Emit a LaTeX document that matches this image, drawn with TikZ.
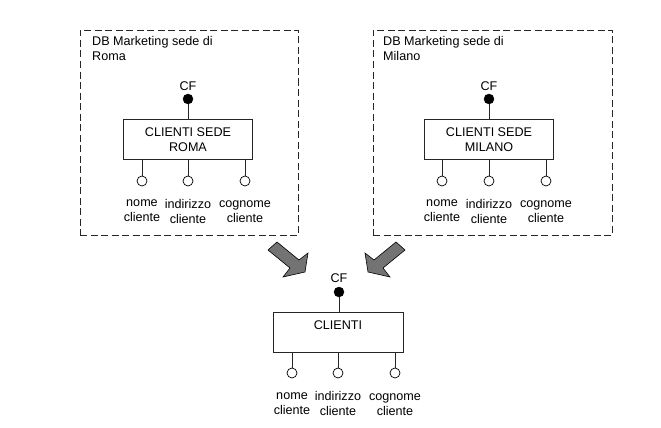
\documentclass[tikz,border=0pt]{standalone}
\usepackage{fontspec}
\setmainfont{Liberation Sans}
\usetikzlibrary{positioning}

\begin{document}
\begin{tikzpicture}[
    x=1pt, y=-1pt,
    every node/.style={font=\fontsize{12.6}{15}\selectfont},
    area/.style={rectangle, draw=black!85, line width=0.8pt, dash pattern=on 7pt off 3.5pt},
    entity/.style={rectangle, draw=black!85, line width=0.8pt, minimum width=129pt, minimum height=40pt, align=center},
    keyattr/.style={circle, fill=black, draw=black, minimum size=10pt, inner sep=0pt},
    attr/.style={circle, draw=black, fill=white, line width=0.7pt, minimum size=10pt, inner sep=0pt},
    attrlabel/.style={align=center, inner sep=0pt},
    link/.style={draw=black!85, line width=0.8pt},
    bigarrow/.style={fill=black!55, draw=black, line width=0.6pt}
]
    \useasboundingbox (0,0) rectangle (661,428);

    % database Roma
    \node (dbroma) [area, minimum width=218pt, minimum height=205pt] at (189,132.5) {};
    \node (titleroma) [anchor=north west, align=left, inner sep=0pt] at (92,36) {DB Marketing sede di\\Roma};
    \node (cfroma) at (188,86) {CF};
    \node (kroma) [keyattr] at (188,99) {};
    \node (roma) [entity] at (188,139.5) {CLIENTI SEDE\\ROMA};
    \node (nomer) [attr] at (142,181) {};
    \node (indr) [attr] at (188,181) {};
    \node (cognr) [attr] at (245,181) {};
    \node (lnomer) [attrlabel] at (142,211) {nome\\cliente};
    \node (lindr) [attrlabel] at (188,211) {indirizzo\\cliente};
    \node (lcognr) [attrlabel] at (245,212) {cognome\\cliente};
    \draw [link] (kroma) -- (kroma |- roma.north);
    \draw [link] (nomer) -- (nomer |- roma.south);
    \draw [link] (indr) -- (indr |- roma.south);
    \draw [link] (cognr) -- (cognr |- roma.south);

    % database Milano
    \node (dbmilano) [area, minimum width=239pt, minimum height=205pt] at (492.5,132.5) {};
    \node (titlemilano) [anchor=north west, align=left, inner sep=0pt] at (383,36) {DB Marketing sede di\\Milano};
    \node (cfmilano) at (489,86) {CF};
    \node (kmilano) [keyattr] at (489,99) {};
    \node (milano) [entity] at (489,139.5) {CLIENTI SEDE\\MILANO};
    \node (nomem) [attr] at (442,181) {};
    \node (indm) [attr] at (489,181) {};
    \node (cognm) [attr] at (546,181) {};
    \node (lnomem) [attrlabel] at (442,211) {nome\\cliente};
    \node (lindm) [attrlabel] at (489,211) {indirizzo\\cliente};
    \node (lcognm) [attrlabel] at (546,212) {cognome\\cliente};
    \draw [link] (kmilano) -- (kmilano |- milano.north);
    \draw [link] (nomem) -- (nomem |- milano.south);
    \draw [link] (indm) -- (indm |- milano.south);
    \draw [link] (cognm) -- (cognm |- milano.south);

    % integrazione
    \draw [bigarrow] (277,242) -- (299,260) -- (308,253) -- (305,272) -- (283,277) -- (290,268) -- (268,250) -- cycle;
    \draw [bigarrow] (396,242) -- (374,260) -- (365,253) -- (368,272) -- (390,277) -- (383,268) -- (405,250) -- cycle;

    % schema integrato
    \node (cfcli) at (339,278) {CF};
    \node (kcli) [keyattr] at (339,292) {};
    \node (clienti) [entity, minimum width=130pt, text height=9pt, text depth=14.5pt] at (338,332) {CLIENTI};
    \node (nomec) [attr] at (292,373) {};
    \node (indc) [attr] at (338,373) {};
    \node (cognc) [attr] at (395,373) {};
    \node (lnomec) [attrlabel] at (292,403.5) {nome\\cliente};
    \node (lindc) [attrlabel] at (338,403.5) {indirizzo\\cliente};
    \node (lcognc) [attrlabel] at (395,405) {cognome\\cliente};
    \draw [link] (kcli) -- (kcli |- clienti.north);
    \draw [link] (nomec) -- (nomec |- clienti.south);
    \draw [link] (indc) -- (indc |- clienti.south);
    \draw [link] (cognc) -- (cognc |- clienti.south);
\end{tikzpicture}
\end{document}
